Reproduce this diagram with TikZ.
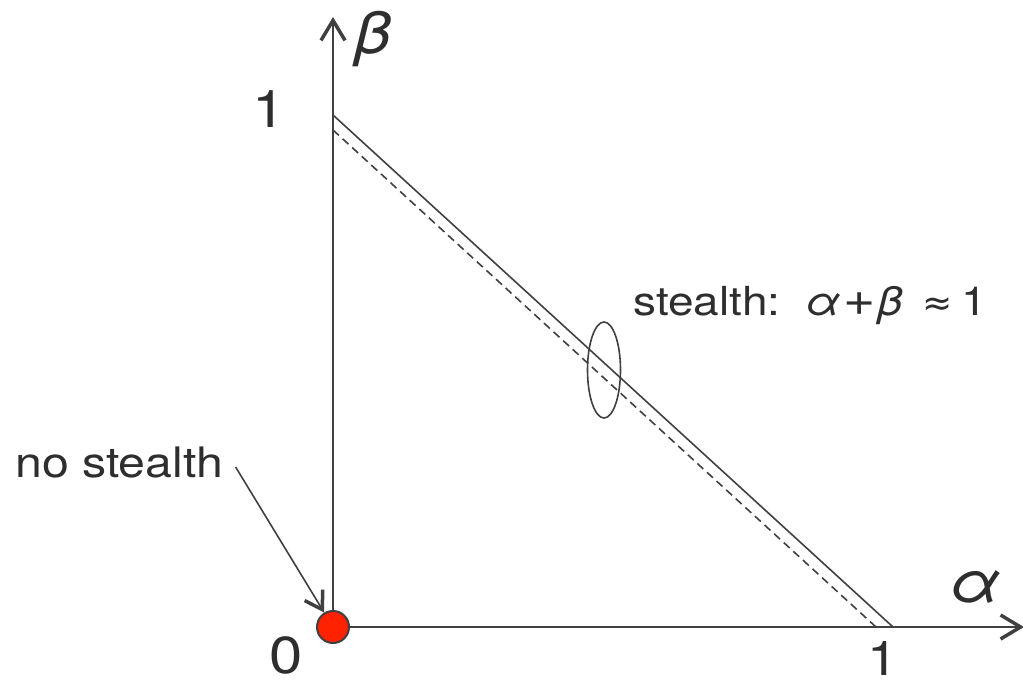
\documentclass[tikz,border=0pt]{standalone}
\usepackage{fontspec}
\setmainfont[FakeStretch=1.15]{TeX Gyre Heros}
\newfontfamily\symfont{DejaVu Sans}
\usetikzlibrary{arrows.meta, shapes.geometric}
\definecolor{ink}{HTML}{404040}
\definecolor{txt}{HTML}{2E2E2E}
\definecolor{dotred}{HTML}{FF2200}

\begin{document}
\begin{tikzpicture}[x=1pt, y=-1pt,
    axis/.style  = {draw=ink, line width=2pt,
                    -{Straight Barb[length=20pt, width=24pt, line width=3.5pt]}},
    limit/.style = {draw=ink, line width=1.6pt},
    lbl/.style   = {text=txt, inner sep=0pt},
    arr/.style   = {draw=ink, line width=1.6pt,
                    -{Straight Barb[length=17pt, width=21pt, line width=3.5pt]}}]
  \useasboundingbox (0,0) rectangle (1023,688);
  % axes and the points where the lines meet them
  \coordinate (o)     at (333,627);
  \coordinate (xend)  at (1024,627);
  \coordinate (yend)  at (333,17);
  \coordinate (yone)  at (333,115);
  \coordinate (xone)  at (893,627);
  \coordinate (ydash) at (333,130);
  \coordinate (xdash) at (876,627);
  \draw[axis] (o) -- (xend);
  \draw[axis] (o) -- (yend);
  % the line alpha + beta = 1 and the dashed one just under it
  \draw[limit] (yone) -- (xone);
  \draw[limit, dash pattern=on 8pt off 5pt] (ydash) -- (xdash);
  % axis labels
  \node[lbl, font=\fontsize{52}{52}\selectfont] (ylab1) at (269,109) {1};
  \node[lbl, font=\fontsize{52}{52}\selectfont] (zero)  at (286,655) {0};
  \node[lbl, font=\fontsize{48}{48}\selectfont, anchor=north] (xlab1) at (883,641) {1};
  \node[lbl, font=\fontsize{58}{58}\selectfont\itshape] (beta)  at (373,39)  {β};
  \node[lbl, font=\fontsize{58}{58}\selectfont\itshape] (alpha) at (975,587) {α};
  % the stealth region
  \node[draw=ink, line width=1.6pt, ellipse, inner sep=0pt,
        minimum width=33pt, minimum height=96pt] (ring) at (604,370) {};
  \node[lbl, anchor=base west, font=\fontsize{40}{40}\selectfont] (sth) at (633,315)
    {stealth:\ \ {\itshape α}\hspace{2pt}{\fontsize{48}{48}\selectfont+}\hspace{2pt}{\itshape β}\hspace{20pt}{\symfont\fontsize{36}{36}\selectfont ≈}\hspace{8pt}1};
  % no stealth at the origin
  \node[circle, fill=dotred, draw=ink, line width=2pt, inner sep=0pt,
        minimum size=32pt] (dot) at (o) {};
  \node[lbl, anchor=base west, font=\fontsize{42}{42}\selectfont] (nost) at (15,477) {no stealth};
  \draw[arr] ([xshift=12pt, yshift=-5pt]nost.east) -- (dot);
\end{tikzpicture}
\end{document}
